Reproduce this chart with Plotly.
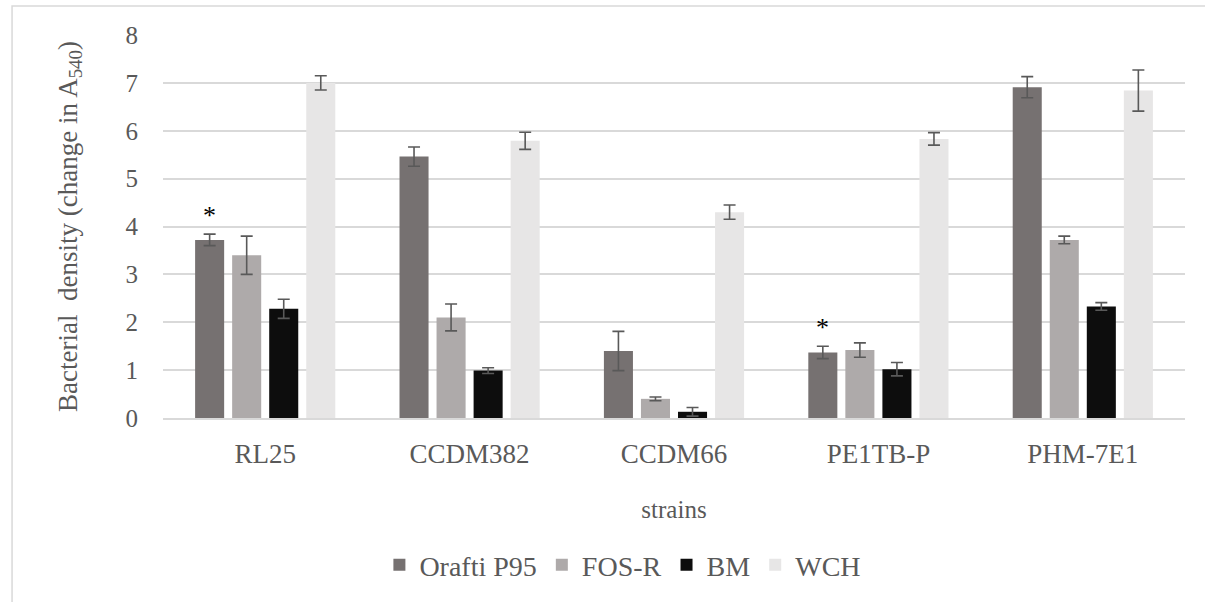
import plotly.graph_objects as go

strains = ["RL25", "CCDM382", "CCDM66", "PE1TB-P", "PHM-7E1"]
series_names = ["Orafti P95", "FOS-R", "BM", "WCH"]
orafti = [3.72, 5.46, 1.40, 1.37, 6.91]
orafti_err = [0.12, 0.20, 0.41, 0.13, 0.22]
fosr = [3.40, 2.10, 0.40, 1.42, 3.72]
fosr_err = [0.40, 0.28, 0.04, 0.15, 0.08]
bm = [2.28, 0.99, 0.13, 1.02, 2.33]
bm_err = [0.20, 0.06, 0.09, 0.14, 0.08]
wch = [7.00, 5.79, 4.30, 5.83, 6.84]
wch_err = [0.15, 0.18, 0.15, 0.13, 0.43]
colors = ["#767171", "#AEAAAA", "#0D0D0D", "#E7E6E6"]
significant = ["RL25", "PE1TB-P"]  # asterisks on Orafti P95

values = [orafti, fosr, bm, wch]
errors = [orafti_err, fosr_err, bm_err, wch_err]

serif = "Liberation Serif"
txt = "#595959"

fig = go.Figure()
for name, v, e, c in zip(series_names, values, errors, colors):
    fig.add_trace(go.Bar(
        x=strains, y=v, name=name, marker_color=c, marker_line_width=0,
        error_y=dict(type="data", array=e, visible=True, color="#595959",
                     thickness=1.6, width=6),
    ))

for s in significant:
    i = strains.index(s)
    fig.add_annotation(x=s, y=orafti[i] + orafti_err[i], yanchor="bottom",
                       xshift=-55.5, yshift=2, text="*", showarrow=False,
                       font=dict(family=serif, size=26, color="#000000"))

fig.add_shape(type="rect", xref="paper", yref="paper",
              x0=-0.1477, x1=1.03, y0=-0.6, y1=1.0757,
              line=dict(color="#D9D9D9", width=1.5), fillcolor="rgba(0,0,0,0)",
              layer="below")

fig.update_layout(
    width=1205, height=602,
    margin=dict(l=163, r=20, t=35, b=184),
    paper_bgcolor="white", plot_bgcolor="white",
    barmode="group", bargap=0.275, bargroupgap=0.216,
    font=dict(family=serif, color=txt, size=26),
    xaxis=dict(showgrid=False, showline=True, linecolor="#D9D9D9", linewidth=1.5,
               ticks="", tickfont=dict(family=serif, size=27, color=txt), ticklabelstandoff=11,
               title=dict(text="strains", font=dict(family=serif, size=25, color=txt), standoff=32)),
    yaxis=dict(range=[0, 8], dtick=1, showgrid=True, gridcolor="#D9D9D9", gridwidth=1.5,
               zeroline=False, showline=False, ticks="",
               tickfont=dict(family=serif, size=25, color=txt), ticklabelstandoff=24,
               title=dict(text="Bacterial  density (change in A<sub>540</sub>)",
                          font=dict(family=serif, size=27, color=txt), standoff=40)),
    legend=dict(orientation="h", x=0.45, xanchor="center", y=-0.384, yanchor="middle",
                font=dict(family=serif, size=28, color=txt), traceorder="normal",
                itemwidth=30, tracegroupgap=0),
)

fig.write_html("out.html")
